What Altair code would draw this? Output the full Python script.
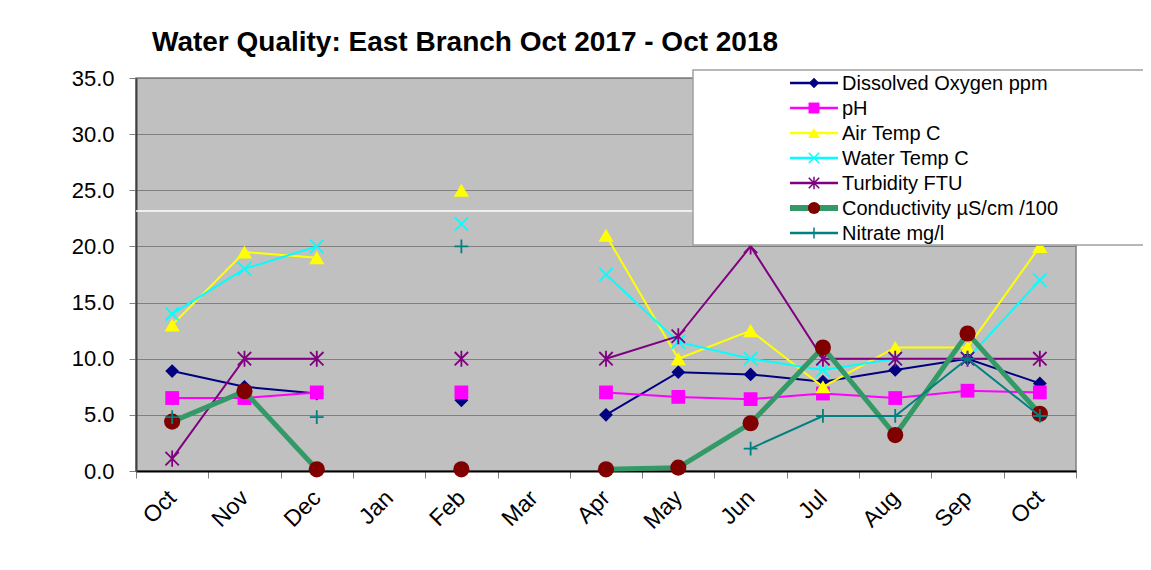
import altair as alt
import pandas as pd

# ---------------- data ----------------
months = ["Oct", "Nov", "Dec", "Jan", "Feb", "Mar", "Apr", "May", "Jun", "Jul", "Aug", "Sep", "Oct"]
month_keys = [f"{i:02d} {m}" for i, m in enumerate(months)]

series_names = [
    "Dissolved Oxygen ppm",
    "pH",
    "Air Temp C",
    "Water Temp C",
    "Turbidity FTU",
    "Conductivity µS/cm /100",
    "Nitrate mg/l",
]

dissolved_oxygen = [8.9, 7.5, 6.9, None, 6.3, None, 5.0, 8.8, 8.6, 7.95, 9.0, 10.0, 7.8]
ph = [6.5, 6.5, 7.0, None, 7.0, None, 7.0, 6.6, 6.4, 6.9, 6.5, 7.15, 7.0]
air_temp = [13.0, 19.5, 19.0, None, 25.0, None, 21.0, 10.0, 12.5, 7.5, 11.0, 11.0, 20.0]
water_temp = [14.0, 18.0, 20.0, None, 22.0, None, 17.5, 11.5, 10.0, 9.0, 10.0, 10.0, 17.0]
turbidity = [1.1, 10.0, 10.0, None, 10.0, None, 10.0, 12.0, 20.0, 10.0, 10.0, 10.0, 10.0]
conductivity = [4.4, 7.1, 0.15, None, 0.15, None, 0.15, 0.3, 4.25, 11.0, 3.2, 12.25, 5.1]
nitrate = [4.8, None, 4.8, None, 20.0, None, None, None, 2.0, 4.9, 4.9, 10.0, 4.9]

all_values = [dissolved_oxygen, ph, air_temp, water_temp, turbidity, conductivity, nitrate]

y_ticks = [0, 5, 10, 15, 20, 25, 30, 35]

# ---------------- styles ----------------
X_PATH = "M-1,-1L1,1M1,-1L-1,1"
STAR_PATH = "M-1,-1L1,1M1,-1L-1,1M0,-1.2L0,1.2"
PLUS_PATH = "M-1,0L1,0M0,-1L0,1"

line_colors = ["#000080", "#FF00FF", "#FFFF00", "#00FFFF", "#800080", "#339966", "#008080"]
marker_colors = ["#000080", "#FF00FF", "#FFFF00", "#00FFFF", "#800080", "#800000", "#008080"]
line_widths = [2, 2, 2, 2, 2, 5, 2]
shapes = ["diamond", "square", "triangle-up", X_PATH, STAR_PATH, "circle", PLUS_PATH]
filled = [True, True, True, False, False, True, False]
sizes = [190, 190, 230, 180, 180, 260, 190]
legend_sizes = [110, 120, 140, 110, 110, 150, 120]

FONT = "Liberation Sans"

# ---------------- long table ----------------
rows = []
for name, vals in zip(series_names, all_values):
    seg = 0
    prev = None
    for i, v in enumerate(vals):
        if v is None:
            continue
        if prev is not None and i - prev > 1:
            seg += 1
        rows.append({"month": month_keys[i], "series": name, "value": v, "seg": f"{name}-{seg}"})
        prev = i
df = pd.DataFrame(rows)

x_enc = alt.X(
    "month:N",
    scale=alt.Scale(type="band", domain=month_keys, paddingInner=0, paddingOuter=0),
    axis=alt.Axis(
        title=None,
        labelExpr="substring(datum.label, 3)",
        labelAngle=-45,
        labelAlign="right",
        labelBaseline="middle",
        labelFontSize=23,
        labelFont=FONT,
        labelColor="#000000",
        labelPadding=16,
        tickBand="extent",
        tickSize=7,
        tickColor="#808080",
        domainColor="#000000",
        domainWidth=2,
        grid=False,
    ),
)
y_enc = alt.Y(
    "value:Q",
    scale=alt.Scale(domain=[0, 35], nice=False, zero=True),
    axis=alt.Axis(
        title=None,
        values=y_ticks,
        format=".1f",
        labelFontSize=22,
        labelFont=FONT,
        labelColor="#000000",
        labelPadding=15,
        tickSize=7,
        tickColor="#808080",
        domainColor="#404040",
        domainWidth=2,
        grid=True,
        gridColor="#808080",
        gridWidth=1,
        gridOpacity=1,
    ),
)

layers = []

# white artifact line across the plot
layers.append(
    alt.Chart(pd.DataFrame({"a": [0]})).mark_rule(color="#FFFFFF", strokeWidth=1.5).encode(
        x=alt.value(0), x2=alt.value(557), y=alt.value(133)
    )
)

for i, name in enumerate(series_names):
    sub = df[df["series"] == name]
    base = alt.Chart(sub)
    layers.append(
        base.mark_line(color=line_colors[i], strokeWidth=line_widths[i]).encode(
            x=x_enc, y=y_enc, detail="seg:N"
        )
    )
    if filled[i]:
        pm = base.mark_point(
            shape=shapes[i], filled=True, color=marker_colors[i], size=sizes[i], opacity=1
        )
    else:
        pm = base.mark_point(
            shape=shapes[i], filled=False, color=marker_colors[i], size=sizes[i],
            strokeWidth=1.8, opacity=1
        )
    layers.append(pm.encode(x=x_enc, y=y_enc))

# ---------------- custom legend ----------------
layers.append(
    alt.Chart(pd.DataFrame({"a": [0]})).mark_rect(
        fill="#FFFFFF", stroke="#A0A0A0", strokeWidth=1.5
    ).encode(x=alt.value(557), x2=alt.value(1010), y=alt.value(-8), y2=alt.value(167))
)
for i, name in enumerate(series_names):
    ly = 5 + 25 * i
    one = alt.Chart(pd.DataFrame({"name": [name]}))
    layers.append(
        one.mark_rule(color=line_colors[i], strokeWidth=line_widths[i] + (1 if i == 5 else 0.5)).encode(
            x=alt.value(654), x2=alt.value(702), y=alt.value(ly)
        )
    )
    if filled[i]:
        lp = one.mark_point(shape=shapes[i], filled=True, color=marker_colors[i],
                            size=legend_sizes[i], opacity=1)
    else:
        lp = one.mark_point(shape=shapes[i], filled=False, color=marker_colors[i],
                            size=legend_sizes[i], strokeWidth=1.5, opacity=1)
    layers.append(lp.encode(x=alt.value(678), y=alt.value(ly)))
    layers.append(
        one.mark_text(align="left", baseline="middle", fontSize=20, font=FONT, color="#000000").encode(
            x=alt.value(706), y=alt.value(ly + 1), text="name:N"
        )
    )

chart = alt.layer(*layers).properties(
    width=940,
    height=393,
    autosize=alt.AutoSizeParams(type="none"),
    padding={"left": 128, "top": 70, "right": 67, "bottom": 91},
    background="#FFFFFF",
    title=alt.TitleParams(
        "Water Quality: East Branch Oct 2017 - Oct 2018",
        font=FONT,
        fontSize=28,
        fontWeight="bold",
        color="#000000",
        anchor="start",
        frame="group",
        dx=16,
        dy=38,
        offset=26,
        baseline="alphabetic",
    ),
).configure_view(fill="#C0C0C0", stroke="#808080", strokeWidth=1.5)

chart.save("out.html", embed_options={"renderer": "svg", "actions": False})
